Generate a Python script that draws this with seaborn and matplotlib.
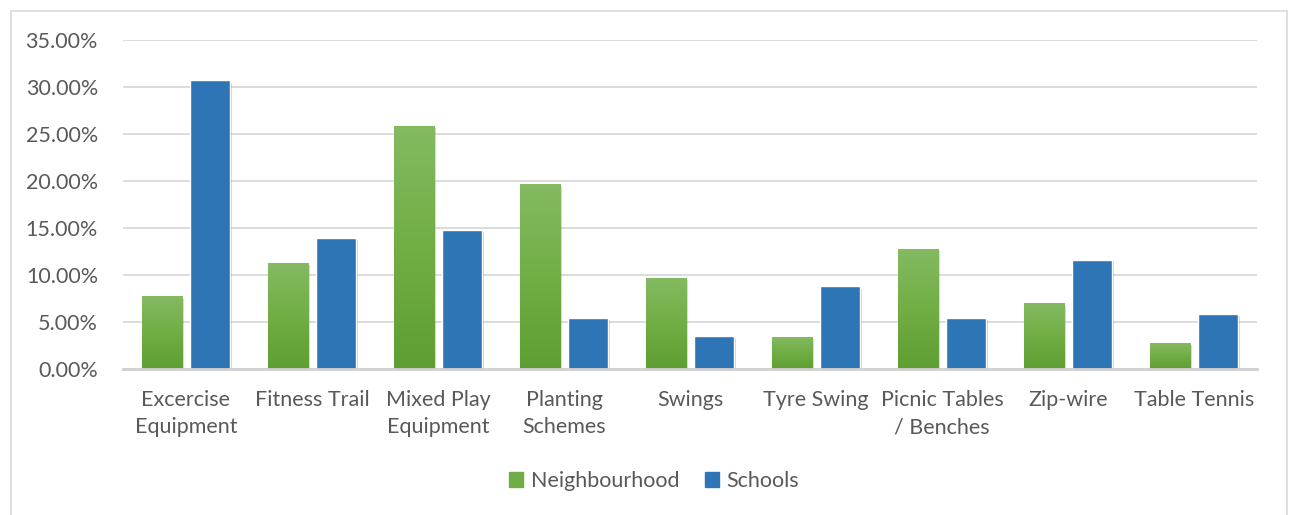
import numpy as np
import pandas as pd
import seaborn as sns
import matplotlib.pyplot as plt
from matplotlib.colors import LinearSegmentedColormap, to_rgb
from matplotlib.ticker import FuncFormatter
from matplotlib.patches import Rectangle
import matplotlib.patheffects as pe

# Data
features = ['Excercise\nEquipment', 'Fitness Trail', 'Mixed Play\nEquipment',
            'Planting\nSchemes', 'Swings', 'Tyre Swing', 'Picnic Tables\n/ Benches',
            'Zip-wire', 'Table Tennis']
neighbourhood = [0.0772, 0.1124, 0.2586, 0.1967, 0.0967, 0.0345, 0.1273, 0.0697, 0.0274]
schools = [0.3070, 0.1397, 0.1476, 0.0544, 0.0355, 0.0878, 0.0544, 0.1156, 0.0587]
groups = ['Neighbourhood', 'Schools']

df = pd.DataFrame({
    'Feature': features * 2,
    'Share': neighbourhood + schools,
    'Group': [groups[0]] * len(features) + [groups[1]] * len(features),
})

GREEN = '#70AD47'
BLUE = '#2E75B6'
TEXT = '#595959'
GRID = '#D9D9D9'
FS = 15.5

sns.set_style('white')
plt.rcParams['font.family'] = ['Lato', 'DejaVu Sans']
plt.rcParams['font.size'] = FS

fig = plt.figure(figsize=(12.9, 5.15), dpi=100)
ax = fig.add_axes([0.0953, 0.2835, 0.8791, 0.6388])

sns.barplot(data=df, x='Feature', y='Share', hue='Group', palette=[GREEN, BLUE],
            width=0.76, gap=0.16, ax=ax, legend=False, saturation=1)

# green bars get a vertical gradient like the original
grad = LinearSegmentedColormap.from_list('g', ['#5E9E32', '#71AE45', '#84BA61'])
shadow = [pe.SimplePatchShadow(offset=(1.5, -1.5), alpha=0.18, shadow_rgbFace='#000000'),
          pe.Normal()]
for bar in ax.patches:
    bar.set_path_effects(shadow)
    if bar.get_facecolor()[:3] == to_rgb(GREEN):
        x0, y0 = bar.get_x(), bar.get_y()
        w, h = bar.get_width(), bar.get_height()
        img = ax.imshow(np.linspace(0, 1, 256).reshape(-1, 1), cmap=grad, origin='lower',
                        extent=[x0, x0 + w, y0, y0 + h], aspect='auto', zorder=bar.get_zorder() + 0.1)
        img.set_clip_path(bar)

ax.set_xlim(-0.5, len(features) - 0.5)
ax.set_ylim(0, 0.35)
ax.set_yticks(np.arange(0, 0.351, 0.05))
ax.yaxis.set_major_formatter(FuncFormatter(lambda v, _: f'{v:.2%}'))
ax.grid(axis='y', color=GRID, linewidth=1.3)
ax.set_axisbelow(True)
ax.set_xlabel('')
ax.set_ylabel('')
for s in ['top', 'right', 'left']:
    ax.spines[s].set_visible(False)
ax.spines['bottom'].set_color('#D0D0D0')
ax.spines['bottom'].set_linewidth(2)
ax.tick_params(axis='both', length=0, colors=TEXT, labelsize=FS)
ax.tick_params(axis='y', pad=18)
ax.tick_params(axis='x', pad=15)
for lab in ax.get_xticklabels():
    lab.set_linespacing(1.45)
    lab.set_verticalalignment('top')

handles = [Rectangle((0, 0), 1, 1, color=GREEN), Rectangle((0, 0), 1, 1, color=BLUE)]
leg = fig.legend(handles, groups, loc='center', bbox_to_anchor=(0.507, 0.066), ncol=2,
                 frameon=False, handlelength=0.65, handleheight=0.65, handletextpad=0.35,
                 columnspacing=1.2, fontsize=FS)
for t in leg.get_texts():
    t.set_color(TEXT)

# light outer frame of the chart area
fig.patches.append(Rectangle((11 / 1290, -0.05), 1276 / 1290, 1 - 11 / 515 + 0.05,
                             transform=fig.transFigure, fill=False, edgecolor='#D9D9D9',
                             linewidth=1.2))

fig.savefig('out.png', dpi=100)
